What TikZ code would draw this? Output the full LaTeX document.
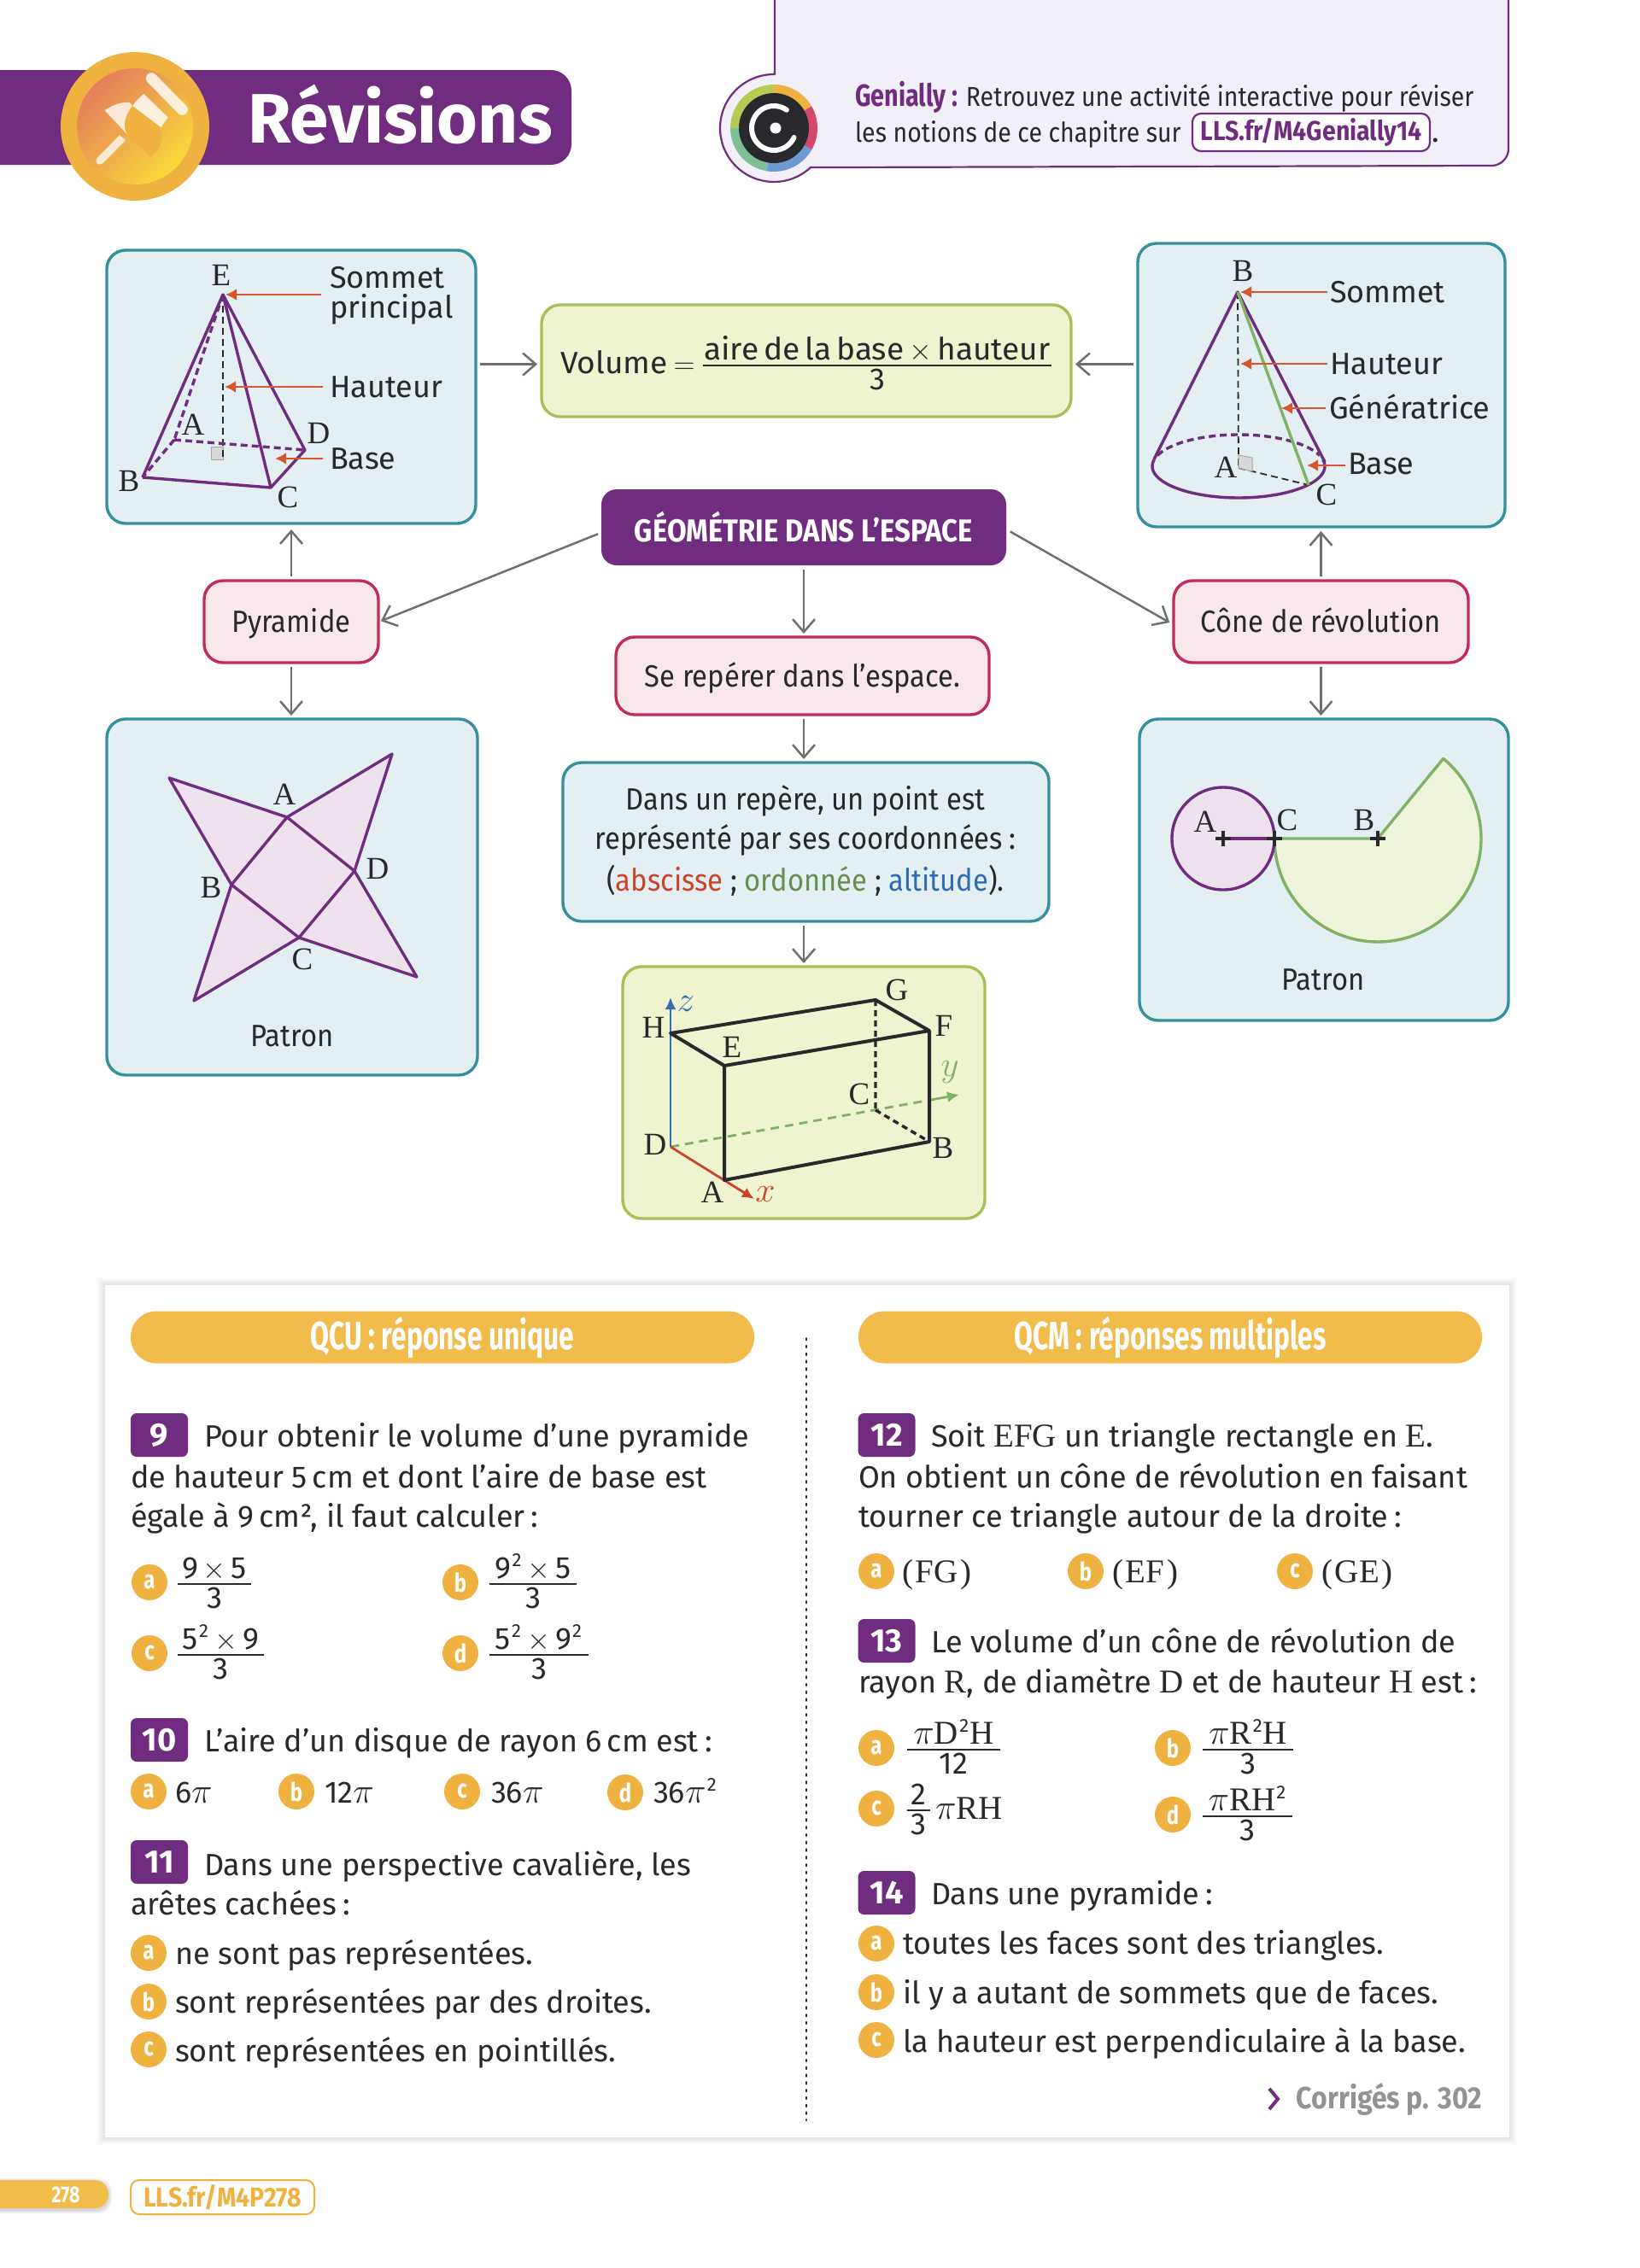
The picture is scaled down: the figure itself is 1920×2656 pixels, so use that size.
\documentclass[tikz,border=0pt]{standalone}
\usepackage{fontspec}
\usetikzlibrary{arrows.meta,calc}
\setmainfont{Fira Sans}
\newfontfamily\fira{Fira Sans}
\newfontfamily\firac[FakeStretch=0.8]{Fira Sans}
\newfontfamily\firan[FakeStretch=0.91]{Fira Sans}
\newfontfamily\firat[FakeStretch=0.69]{Fira Sans}
\newfontfamily\firag[FakeStretch=0.89]{Fira Sans}
\newfontfamily\firaw[FakeStretch=1.03]{Fira Sans}
\newfontfamily\lmr{Liberation Serif}
\definecolor{ink}{HTML}{27292C}
\definecolor{violet1}{HTML}{702C7E}
\definecolor{orange1}{HTML}{EFB240}
\definecolor{gold1}{HTML}{F1BC4B}
\definecolor{teal1}{HTML}{33919F}
\definecolor{blue1}{HTML}{E3EFF2}
\definecolor{lime1}{HTML}{A6C05A}
\definecolor{lime2}{HTML}{F0F3CF}
\definecolor{rose1}{HTML}{C22A5A}
\definecolor{rose2}{HTML}{F9E8EB}
\definecolor{grey1}{HTML}{6F6F6F}
\definecolor{red1}{HTML}{D9552F}
\definecolor{green1}{HTML}{7FB263}
\definecolor{green2}{HTML}{EEF3DB}
\definecolor{lilac}{HTML}{EEE2EF}
\definecolor{lav}{HTML}{F3EFF9}
\definecolor{blue2}{HTML}{2F6DB0}
\definecolor{redx}{HTML}{C9452A}
\definecolor{pinA}{HTML}{E37F5C}
\definecolor{pinB}{HTML}{FBD93B}
\newcommand\fbody{\fira\fontsize{18}{22}\selectfont}
\newcommand\fnar{\firan\fontsize{18}{22}\selectfont}
\newcommand\fser{\lmr\fontsize{18.5}{20}\selectfont}
\newcommand\serb{\lmr\fontsize{19.5}{22}\selectfont}
\newcommand\sq{\kern0.6pt\raisebox{7pt}{\fira\fontsize{11}{11}\selectfont 2}\kern0.6pt}
\newcommand\bpi{{\fontsize{20.74}{24}\selectfont$\pi$}}
\newcommand\cln{\kern.2em:}
\tikzset{
  x=0.5pt,y=-0.5pt,
  txt/.style={anchor=base west,inner sep=0pt,outer sep=0pt,font=\fbody,text=ink},
  mid/.style={anchor=base,inner sep=0pt,outer sep=0pt,font=\fbody,text=ink},
  lbl/.style={inner sep=0pt,outer sep=0pt,font=\fser,text=ink},
  bbox/.style={rectangle,rounded corners=11pt,inner sep=0pt,outer sep=0pt,line width=1.7pt,align=center,font=\fnar,text=ink},
  tealbox/.style={bbox,draw=teal1,fill=blue1},
  limebox/.style={bbox,draw=lime1,fill=lime2},
  rosebox/.style={bbox,draw=rose1,fill=rose2,text height=14pt,text depth=1.5pt},
  garrow/.style={draw=grey1,line width=1.25pt,-{Straight Barb[length=7.5pt,width=13pt,line width=1.25pt]},shorten <=1pt,shorten >=1pt},
  rarrow/.style={draw=red1,line width=1.4pt,-{Latex[length=6.5pt,width=7pt]}},
  purp/.style={draw=violet1,line width=1.7pt,line join=round},
  purpd/.style={draw=violet1,line width=1.7pt,dash pattern=on 4pt off 2.5pt},
  blk/.style={draw=ink,line width=2pt,line join=round},
  optc/.style={circle,fill=orange1,minimum size=21pt,inner sep=0pt,outer sep=0pt,text=white,font=\firac\bfseries\fontsize{15}{15}\selectfont},
  numb/.style={rectangle,rounded corners=3.5pt,fill=violet1,minimum width=33.5pt,minimum height=25.5pt,inner sep=0pt,outer sep=0pt,text=white,font=\fira\bfseries\fontsize{19}{19}\selectfont},
  barb/.style={rectangle,rounded corners=15pt,fill=gold1,minimum width=365pt,minimum height=30.5pt,inner sep=0pt,outer sep=0pt,text=white,text height=17pt,text depth=3pt,font=\firat\bfseries\fontsize{23}{23}\selectfont},
  fracr/.style={draw=ink,line width=0.7pt},
}
\newcommand\bx[7]{\node[#6,minimum width={(#4-#2)*0.5pt},minimum height={(#5-#3)*0.5pt}] (#1) at ({(#2+#4)/2},{(#3+#5)/2}) {#7};}
\newcommand\tx[4]{\node[txt] (#1) at (#2,#3) {#4};}
\newcommand\lab[4]{\node[lbl] (#1) at (#2,#3) {#4};}
\newcommand\rar[4]{\coordinate (#1a) at (#2,#4);\coordinate (#1b) at (#3,#4);\draw[rarrow] (#1a) -- (#1b);}
\newcommand\opt[4]{\node[optc] (#1) at (#2,#3) {#4};}
\newcommand\frc[6]{\node[mid] (#1n) at ({(#2+#3)/2},#4-7) {#5};\node[mid] (#1d) at ({(#2+#3)/2},#4+28) {#6};\coordinate (#1l) at (#2,#4);\coordinate (#1r) at (#3,#4);\draw[fracr] (#1l) -- (#1r);}
\pagestyle{empty}
\begin{document}
\begin{tikzpicture}
\useasboundingbox (0,0) rectangle (1920,2656);
% header band
\fill[violet1,rounded corners=12pt] (-40,82) rectangle (669,193);
\fill[orange1] (158,148) circle[radius=87];
\shade[left color=pinA,right color=pinB,shading angle=45] (158,148) circle[radius=68];
\begin{scope}[shift={(40,50)},scale=1/3]
  \fill[white,opacity=.75] (218,420) .. controls (216,412) and (220,405) .. (226,400) -- (300,325) -- (322,342) -- (245,420) .. controls (235,430) and (222,430) .. (218,420) -- cycle;
  \fill[white,opacity=.78] (248,238) .. controls (270,222) and (300,208) .. (335,210) -- (345,222) -- (330,325) -- cycle;
  \fill[white,opacity=.82] (385,180) -- (470,262) -- (445,298) -- (345,222) .. controls (358,205) and (372,190) .. (385,180) -- cycle;
  \fill[orange1] (345,222) .. controls (315,260) and (310,300) .. (330,325) -- (408,400) .. controls (440,385) and (455,340) .. (445,298) -- cycle;
  \draw[white,opacity=.8,line width=6.5pt,line cap=round] (412,125) -- (520,235);
\end{scope}
\node[inner sep=0pt,outer sep=0pt,anchor=base west,text=white,font=\fira\bfseries\fontsize{41}{41}\selectfont] (revis) at (290,167) {Révisions};
% Genially
\coordinate (gtop) at (907,-4);
\coordinate (gtr) at (1766,-4);
\draw[violet1,line width=1.1pt,fill=lav,line join=round] (gtop) -- (907,87) -- plot[domain=-90:-313,samples=70] ({906+63*cos(\x)},{150+63*sin(\x)}) -- plot[domain=90:0,samples=16] ({1746+20*cos(\x)},{174+20*sin(\x)}) -- (gtr) -- cycle;
\foreach \aa/\bb/\cc in {180/270/B6CB52,270/330/EFB240,330/390/D6496F,390/460/6C9BD2,460/540/7FBF94}{
  \definecolor{tmpc}{HTML}{\cc}
  \fill[tmpc] (906,150) -- plot[domain=\aa:\bb,samples=20] ({906+51*cos(\x)},{150+51*sin(\x)}) -- cycle;
}
\fill[ink] (906,150) circle[radius=41];
\draw[white,line width=3pt,line cap=round] plot[domain=-55:-335,samples=40] ({906+26*cos(\x)},{150+26*sin(\x)});
\fill[white] (908,150) circle[radius=6.5];
\node[txt] (gen1) at (1001,124) {\textcolor{violet1}{\firac\bfseries Genially :} {\firag\fontsize{16}{20}\selectfont\kern-1.5pt Retrouvez une activité interactive pour réviser}};
\node[txt,font=\firag\fontsize{16}{20}\selectfont] (gen2) at (1001,166) {les notions de ce chapitre sur};
\bx{link}{1396}{133}{1674}{177}{bbox,draw=violet1,fill=white,line width=1.1pt,rounded corners=5pt,font=\firag\bfseries\fontsize{16}{16}\selectfont,text=violet1}{LLS.fr/M4Genially14}
\tx{gendot}{1676}{166}{.}
% ---------- pyramid box
\bx{pyrbox}{125}{293}{557}{613}{tealbox}{}
\coordinate (pE) at (261,345);\coordinate (pB) at (167,559);\coordinate (pC) at (317,571);\coordinate (pD) at (357,527);\coordinate (pA) at (204,515);\coordinate (pH) at (261,538);
\fill[gray!30,draw=gray!70,line width=.5pt] (247,523) rectangle (261,538);
\draw[draw=ink,line width=.9pt,dash pattern=on 4pt off 2.5pt] (pE) -- (pH);
\draw[purpd] (pE) -- (pA) (pA) -- (pD) (pA) -- (pB);
\draw[purp] (pB) -- (pE) -- (pC) -- (pB) (pE) -- (pD) -- (pC);
\lab{pEl}{259}{322}{E}\lab{pAl}{226}{497}{A}\lab{pDl}{373}{507}{D}\lab{pBl}{151}{563}{B}\lab{pCl}{337}{582}{C}
\rar{r1}{376}{264}{345}\rar{r2}{378}{263}{453}\rar{r3}{378}{322}{537}
\tx{t1}{386}{337}{Sommet}\tx{t2}{386}{372}{principal}\tx{t3}{386}{465}{Hauteur}\tx{t4}{386}{549}{Base}
% ---------- volume
\bx{vol}{634}{357}{1254}{488}{limebox}{}
\node[txt,font=\firaw\fontsize{18}{22}\selectfont] (volt) at (656,437) {Volume};
\node[mid] (voleq) at (801,437) {\fontsize{17.28}{20}\selectfont$=$};
\frc{volf}{823}{1231}{428}{\firaw aire\,de\,la\,base\,$\times$\,hauteur}{3}
% ---------- cone box
\bx{conbox}{1332}{285}{1762}{617}{tealbox}{}
\coordinate (cB) at (1449,342);\coordinate (cA) at (1450,548);\coordinate (cC) at (1532,568);\coordinate (cL) at (1351,538);\coordinate (cR) at (1551,541);
\draw[draw=ink,line width=.9pt,dash pattern=on 4pt off 2.5pt] (cB) -- (cA) (cA) -- (cC);
\fill[gray!30,draw=gray!70,line width=.5pt] (1450,533) -- (1466,536) -- (1466,552) -- (1450,548) -- cycle;
\draw[purpd] plot[domain=200:340,samples=40] ({1450+101*cos(\x)},{546+37*sin(\x)});
\draw[purp] plot[domain=-12:192,samples=60] ({1450+101*cos(\x)},{546+37*sin(\x)});
\draw[purp] (cL) -- (cB) -- (cR);
\draw[draw=green1,line width=1.7pt] (cB) -- (cC);
\lab{cBl}{1455}{317}{B}\lab{cAl}{1435}{547}{A}\lab{cCl}{1553}{579}{C}
\rar{r4}{1554}{1452}{342}\rar{r5}{1554}{1452}{426}\rar{r6}{1552}{1500}{478}\rar{r7}{1575}{1530}{545}
\tx{t5}{1557}{354}{Sommet}\tx{t6}{1557}{438}{Hauteur}\tx{t7}{1556}{490}{Génératrice}\tx{t8}{1578}{555}{Base}
% ---------- centre
\bx{geom}{704}{573}{1178}{662}{bbox,fill=violet1,draw=none,rounded corners=9pt,text=white,font=\firag\bfseries\fontsize{18.5}{18}\selectfont}{GÉOMÉTRIE DANS L’ESPACE}
\bx{pyramide}{239}{680}{443}{776}{rosebox}{Pyramide}
\bx{conerev}{1374}{680}{1719}{776}{rosebox}{Cône de révolution}
\bx{reperer}{721}{746}{1158}{837}{rosebox}{Se repérer dans l’espace.}
\bx{dans}{659}{893}{1228}{1079}{tealbox}{}
\node[mid,font=\fnar] (d1) at (943,948) {Dans un repère, un point est};
\node[mid,font=\fnar] (d2) at (943,994) {représenté par ses coordonnées\cln};
\node[mid,font=\fnar] (d3) at (943,1043) {(\textcolor{redx}{abscisse} ; \textcolor{green1!80!black}{ordonnée} ; \textcolor{blue2}{altitude}).};
% ---------- pyramid patron
\bx{ppat}{125}{842}{559}{1259}{tealbox}{}
\coordinate (s1) at (198,911);\coordinate (sA) at (336,957);\coordinate (s2) at (459,883);\coordinate (sD) at (415,1020);\coordinate (s3) at (488,1144);\coordinate (sC) at (350,1098);\coordinate (s4) at (227,1172);\coordinate (sB) at (271,1036);
\draw[purp,fill=lilac] (s1) -- (sA) -- (s2) -- (sD) -- (s3) -- (sC) -- (s4) -- (sB) -- cycle;
\draw[purp] (sA) -- (sB) -- (sC) -- (sD) -- cycle;
\lab{sAl}{333}{930}{A}\lab{sDl}{442}{1017}{D}\lab{sBl}{247}{1039}{B}\lab{sCl}{354}{1123}{C}
\node[mid,anchor=center,font=\fnar] (ppt) at (342,1213) {Patron};
% ---------- cone patron
\bx{cpat}{1334}{842}{1766}{1195}{tealbox}{}
\coordinate (qA) at (1432,982);\coordinate (qC) at (1492,982);\coordinate (qB) at (1613,982);\coordinate (qS) at (1690,888);
\draw[draw=green1,line width=1.7pt,fill=green2,line join=round] (qB) -- (qS) -- plot[domain=-50.7:180,samples=80] ({1613+121*cos(\x)},{982+121*sin(\x)}) -- cycle;
\draw[purp,fill=lilac] (qA) circle[radius=60];
\draw[purp] (qA) -- (qC);
\foreach \nn in {qA,qC,qB}{\draw[draw=ink,line width=1.7pt] ($(\nn)+(-9,0)$) -- ($(\nn)+(9,0)$) ($(\nn)+(0,-9)$) -- ($(\nn)+(0,9)$);}
\lab{qAl}{1411}{962}{A}\lab{qCl}{1507}{960}{C}\lab{qBl}{1597}{960}{B}
\node[mid,anchor=center,font=\fnar] (cpt) at (1549,1147) {Patron};
% ---------- cuboid
\bx{cube}{729}{1132}{1153}{1427}{limebox}{}
\coordinate (uH) at (785,1210);\coordinate (uG) at (1025,1171);\coordinate (uF) at (1088,1207);\coordinate (uE) at (848,1248);\coordinate (uA) at (848,1382);\coordinate (uB) at (1088,1337);\coordinate (uC) at (1025,1300);\coordinate (uD) at (785,1343);\coordinate (uZ) at (785,1168);\coordinate (uY) at (1123,1282);\coordinate (uX) at (883,1404);
\draw[draw=green1,line width=1.4pt,dash pattern=on 5pt off 3.5pt] (uD) -- ($(uY)!0.1!(uD)$);
\draw[draw=green1,line width=1.4pt,-{Latex[length=7pt,width=6.5pt]}] ($(uY)!0.1!(uD)$) -- (uY);
\draw[draw=redx,line width=1.4pt,-{Latex[length=7pt,width=6.5pt]}] (uD) -- (uX);
\draw[draw=blue2,line width=1.4pt,-{Latex[length=7pt,width=6.5pt]}] (uD) -- (uZ);
\draw[draw=ink,line width=1.7pt,dash pattern=on 3.5pt off 2.5pt] (uG) -- (uC) (uC) -- (uB);
\draw[blk] (uH) -- (uG) -- (uF) -- (uE) -- cycle (uE) -- (uA) -- (uB) -- (uF);
\lab{uHl}{765}{1203}{H}\lab{uEl}{857}{1226}{E}\lab{uGl}{1050}{1159}{G}\lab{uFl}{1105}{1201}{F}\lab{uCl}{1006}{1281}{C}\lab{uBl}{1104}{1344}{B}\lab{uDl}{767}{1340}{D}\lab{uAl}{834}{1396}{A}
\lab{uxl}{896}{1399}{\fontsize{20.74}{24}\selectfont\color{redx}$x$}\lab{uyl}{1112}{1256}{\fontsize{20.74}{24}\selectfont\color{green1}$y$}\lab{uzl}{803}{1176}{\fontsize{20.74}{24}\selectfont\color{blue2}$z$}
% ---------- connectors
\draw[garrow] ($(pyrbox.east |- vol.west)+(3,4)$) -- ($(vol.west)+(-3,4)$);
\draw[garrow] ($(conbox.west |- vol.east)+(-3,4)$) -- ($(vol.east)+(3,4)$);
\draw[garrow] ($(pyramide.north)+(0,-3)$) -- ($(pyramide.north |- pyrbox.south)+(0,5)$);
\draw[garrow] ($(pyramide.south)+(0,3)$) -- ($(pyramide.south |- ppat.north)+(0,-2)$);
\draw[garrow] ($(conerev.north)+(0,-3)$) -- ($(conerev.north |- conbox.south)+(0,3)$);
\draw[garrow] ($(conerev.south)+(0,3)$) -- ($(conerev.south |- cpat.north)+(0,-2)$);
\draw[garrow] ($(geom.west)+(-2,7)$) -- ($(pyramide.east)+(1,0)$);
\draw[garrow] ($(geom.east)+(3,4)$) -- ($(conerev.west)+(-3,2)$);
\draw[garrow] ($(geom.south)+(0,3)$) -- ($(geom.south |- reperer.north)+(0,-2)$);
\draw[garrow] ($(geom.south |- reperer.south)+(0,3)$) -- ($(geom.south |- dans.north)+(0,-2)$);
\draw[garrow] ($(geom.south |- dans.south)+(0,3)$) -- ($(geom.south |- cube.north)+(0,-2)$);
% ---------- panel
\foreach \ee in {1,...,9}{\fill[black,opacity=.012] (123-\ee,1505-\ee) rectangle (1767+\ee,2503+\ee);}
\fill[white] (123,1505) rectangle (1767,2503);
\node[barb] (qcu) at (518,1566) {QCU : réponse unique};
\node[barb] (qcm) at (1370,1566) {QCM : réponses multiples};
\coordinate (dota) at (944,1567);\coordinate (dotb) at (944,2483);
\draw[draw=ink,line width=1pt,dash pattern=on 1.2pt off 3.2pt,line cap=round] (dota) -- (dotb);
% Q9
\node[numb] (n9) at (186.5,1680.5) {9};
\tx{q9a}{239}{1694}{Pour obtenir le volume d’une pyramide}
\tx{q9b}{153}{1742}{de hauteur 5\,cm et dont l’aire de base est}
\tx{q9c}{153}{1788}{égale à 9\,cm², il faut calculer\cln}
\opt{o9a}{175}{1853}{a}\frc{f9a}{208}{294}{1855}{9\,$\times$\,5}{3}
\opt{o9b}{539}{1853}{b}\frc{f9b}{573}{675}{1855}{9\sq\,$\times$\,5}{3}
\opt{o9c}{175}{1936}{c}\frc{f9c}{208}{309}{1938}{5\sq\,$\times$\,9}{3}
\opt{o9d}{539}{1936}{d}\frc{f9d}{573}{689}{1938}{5\sq\,$\times$\,9\sq}{3}
% Q10
\node[numb] (n10) at (186.5,2037.5) {10};
\tx{q10a}{239}{2051}{L’aire d’un disque de rayon 6\,cm est\cln}
\opt{o10a}{174}{2098}{a}\tx{p10a}{205}{2111}{6\bpi}
\opt{o10b}{347}{2098}{b}\tx{p10b}{380}{2111}{12\bpi}
\opt{o10c}{541}{2098}{c}\tx{p10c}{575}{2111}{36\bpi}
\opt{o10d}{732}{2099}{d}\tx{p10d}{765}{2111}{36\bpi\sq}
% Q11
\node[numb] (n11) at (186.5,2180.5) {11};
\tx{q11a}{239}{2196}{Dans une perspective cavalière, les}
\tx{q11b}{153}{2242}{arêtes cachées\cln}
\opt{o11a}{174}{2287}{a}\tx{p11a}{205}{2300}{ne sont pas représentées.}
\opt{o11b}{174}{2344}{b}\tx{p11b}{205}{2357}{sont représentées par des droites.}
\opt{o11c}{174}{2400}{c}\tx{p11c}{205}{2414}{sont représentées en pointillés.}
% Q12
\node[numb] (n12) at (1038,1680.5) {12};
\tx{q12a}{1090}{1694}{Soit {\serb EFG} un triangle rectangle en {\serb E}.}
\tx{q12b}{1005}{1742}{On obtient un cône de révolution en faisant}
\tx{q12c}{1005}{1788}{tourner ce triangle autour de la droite\cln}
\opt{o12a}{1026}{1840}{a}\tx{p12a}{1056}{1853}{\serb (\kern1.5pt FG\kern1.5pt)}
\opt{o12b}{1271}{1840}{b}\tx{p12b}{1302}{1853}{\serb (\kern1.5pt EF\kern1.5pt)}
\opt{o12c}{1516}{1840}{c}\tx{p12c}{1547}{1853}{\serb (\kern1.5pt GE\kern1.5pt)}
% Q13
\node[numb] (n13) at (1038,1921.5) {13};
\tx{q13a}{1090}{1935}{Le volume d’un cône de révolution de}
\tx{q13b}{1005}{1982}{rayon {\serb R}, de diamètre {\serb D} et de hauteur {\serb H} est\cln}
\opt{o13a}{1026}{2047}{a}\frc{f13a}{1062}{1171}{2049}{\bpi\serb D\sq H}{12}
\opt{o13b}{1373}{2047}{b}\frc{f13b}{1408}{1514}{2049}{\bpi\serb R\sq H}{3}
\opt{o13c}{1026}{2118}{c}\frc{f13c}{1062}{1089}{2120}{2}{3}\tx{p13c}{1095}{2130}{\bpi\serb RH}
\opt{o13d}{1373}{2125}{d}\frc{f13d}{1408}{1513}{2127}{\bpi\serb RH\sq}{3}
% Q14
\node[numb] (n14) at (1038,2216.5) {14};
\tx{q14a}{1090}{2230}{Dans une pyramide\cln}
\opt{o14a}{1026}{2276}{a}\tx{p14a}{1057}{2288}{toutes les faces sont des triangles.}
\opt{o14b}{1026}{2333}{b}\tx{p14b}{1057}{2346}{il y a autant de sommets que de faces.}
\opt{o14c}{1026}{2389}{c}\tx{p14c}{1057}{2403}{la hauteur est perpendiculaire à la base.}
% corriges
\coordinate (ch1) at (1486,2446);\coordinate (ch2) at (1496,2458);\coordinate (ch3) at (1486,2470);
\draw[draw=violet1,line width=2pt] (ch1) -- (ch2) -- (ch3);
\node[txt,anchor=base east,text=gray!85!white,font=\firag\bfseries\fontsize{18}{18}\selectfont] (corr) at (1735,2469) {Corrigés p. 302};
% footer
\foreach \ee in {1,...,4}{\fill[black,opacity=.04,rounded corners=8pt] (-30,2553-\ee+2) rectangle (127+\ee,2586+\ee+2);}
\fill[gold1,rounded corners=8pt] (-30,2553) rectangle (127,2586);
\node[inner sep=0pt,text=white,font=\firac\bfseries\fontsize{13.5}{14}\selectfont] (page) at (77,2570) {278};
\bx{lls}{153}{2553}{368}{2593}{bbox,draw=orange1,fill=white,line width=1pt,rounded corners=5pt,text=orange1,font=\firag\bfseries\fontsize{16}{16}\selectfont}{LLS.fr/M4P278}
\end{tikzpicture}
\end{document}
